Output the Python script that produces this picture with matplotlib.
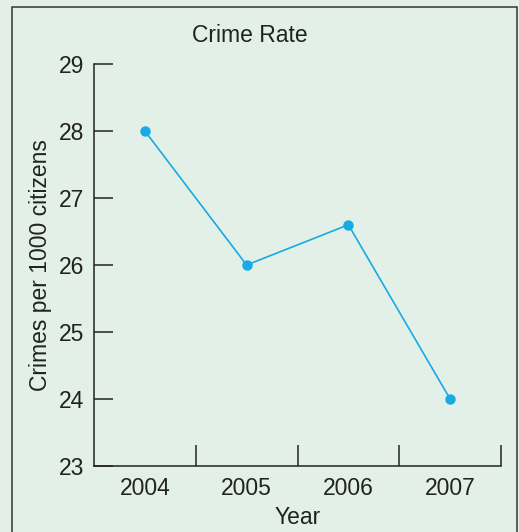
import matplotlib
matplotlib.use("Agg")
import matplotlib.pyplot as plt
from matplotlib.patches import Rectangle

years = ["2004", "2005", "2006", "2007"]
crime_rate = [28.0, 26.0, 26.6, 24.0]
y_ticks = [23, 24, 25, 26, 27, 28, 29]

bg = "#e2f0e7"
line_color = "#18aae4"

plt.rcParams["font.family"] = ["Liberation Sans", "DejaVu Sans"]

W, H = 519, 532
fs = 16.5
fig = plt.figure(figsize=(W / 100, H / 100), dpi=100, facecolor=bg)

# outer frame
fig.patches.append(Rectangle((12 / W, -0.05), (517 - 12) / W, 1.05 - 7 / H,
                             transform=fig.transFigure, fill=False,
                             edgecolor="#333333", linewidth=1.1))

ax = fig.add_axes([94 / W, 1 - 466 / H, (501 - 94) / W, (466 - 64) / H])
ax.set_facecolor(bg)

x = list(range(len(years)))
ax.plot(x, crime_rate, color=line_color, linewidth=1.2,
        marker="o", markersize=6.5, clip_on=False)

ax.set_xlim(-0.5, len(years) - 0.5)
ax.set_ylim(23, 29)
ax.set_yticks(y_ticks)
ax.set_xticks(x)
ax.set_xticklabels(years)
ax.set_xticks([i + 0.5 for i in x], minor=True)

for side in ["top", "right"]:
    ax.spines[side].set_visible(False)
for side in ["left", "bottom"]:
    ax.spines[side].set_linewidth(1.1)
    ax.spines[side].set_color("#222222")

ax.tick_params(axis="y", direction="in", length=14, width=1.1,
               labelsize=fs, pad=7, colors="#222222")
ax.tick_params(axis="x", which="major", length=0, labelsize=fs, pad=8,
               colors="#222222")
ax.tick_params(axis="x", which="minor", direction="in", length=15, width=1.1,
               color="#222222")

ax.set_ylabel("Crimes per 1000 citizens", fontsize=fs, color="#222222",
              labelpad=5)
ax.set_xlabel("Year", fontsize=fs, color="#222222", labelpad=4)

fig.text(250 / W, 1 - 35 / H, "Crime Rate", fontsize=fs, color="#222222",
         ha="center", va="center")

fig.savefig("out.png", dpi=100, facecolor=bg)
